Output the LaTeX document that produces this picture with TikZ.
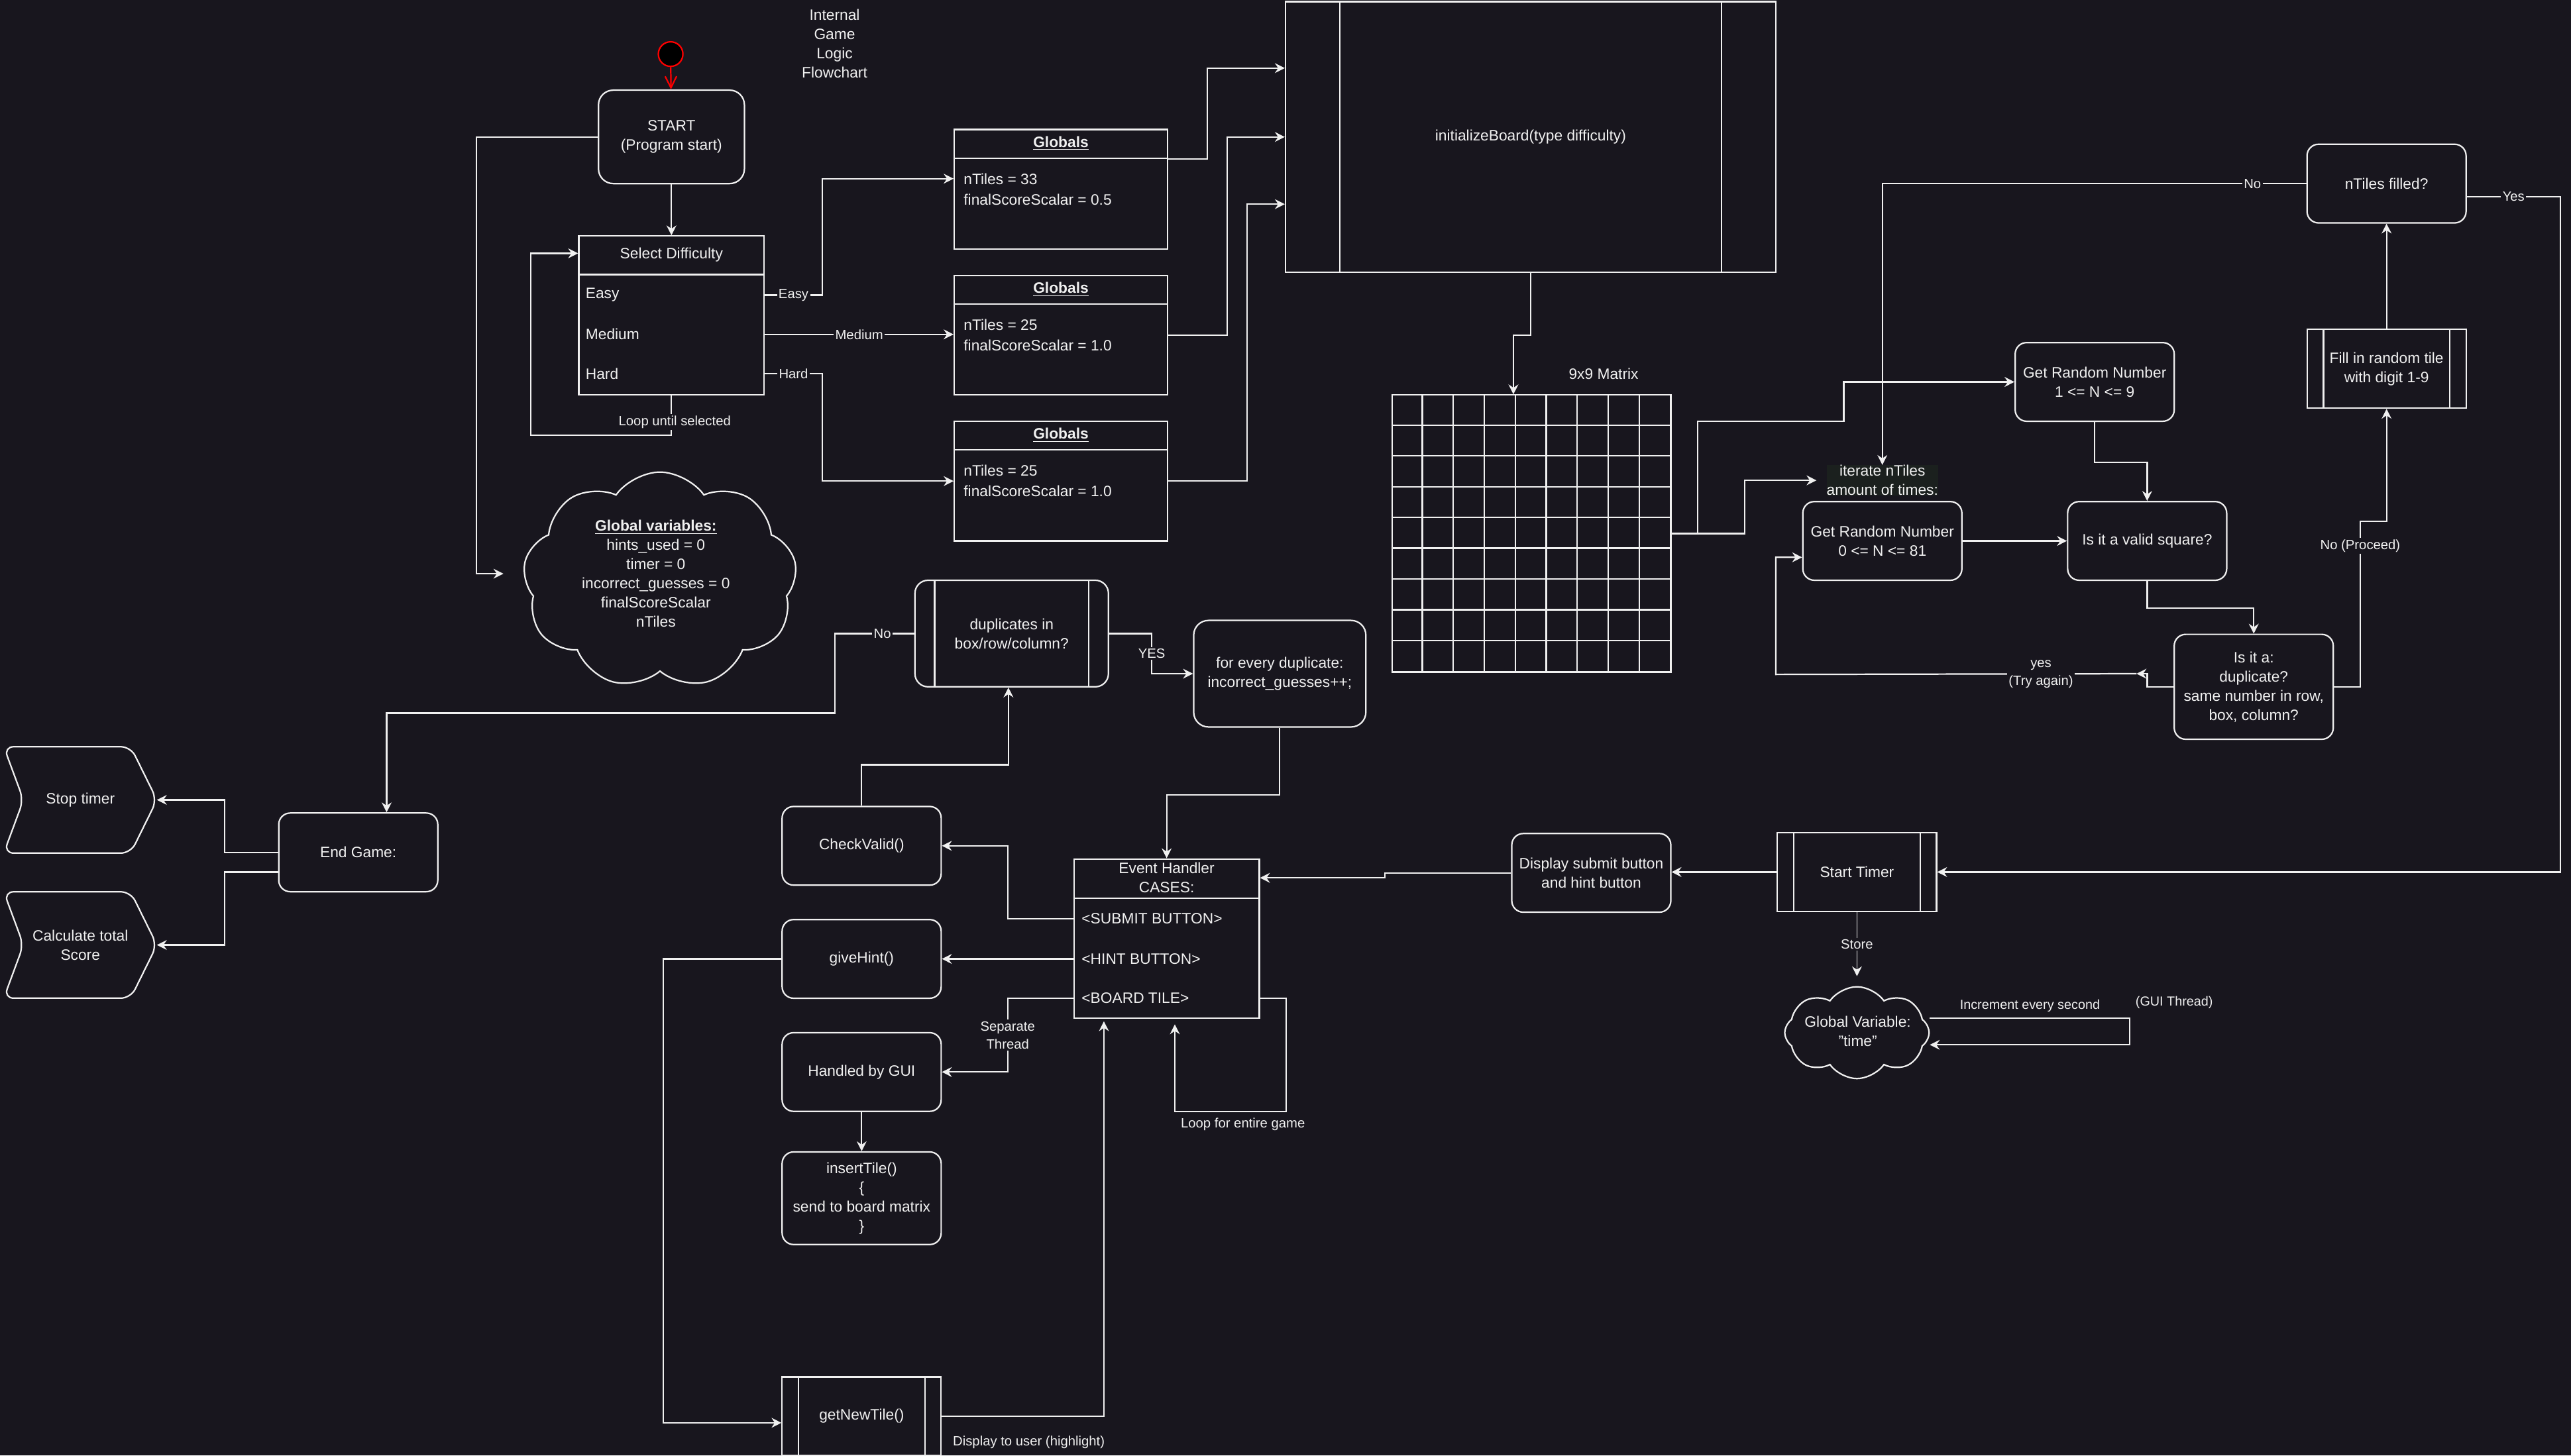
\documentclass[tikz,border=0pt]{standalone}
\usepackage{fontspec}
\setmainfont{Liberation Sans}
\usetikzlibrary{arrows.meta,calc,positioning,shapes.symbols}
\definecolor{bg}{RGB}{24,22,30}
\definecolor{fg}{RGB}{240,240,240}
\definecolor{lblbg}{RGB}{27,32,30}
\tikzset{
        line/.style = {draw=fg, line width=0.9pt},
        arrow/.style = {line, -{Stealth[length=6pt,width=6pt,inset=2pt]}},
        block/.style = {line, rectangle, rounded corners=7pt, fill=bg,
            minimum width=97pt, minimum height=48pt, inner sep=0pt, align=center},
        lane/.style = {line, rectangle, fill=bg, inner sep=0pt},
        proc/.style = {line, rectangle, fill=bg, inner sep=0pt, align=center,
            minimum width=97pt, minimum height=48pt,
            path picture={\draw[fg, line width=0.9pt]
                ([xshift=#1]path picture bounding box.north west) -- ([xshift=#1]path picture bounding box.south west)
                ([xshift=-#1]path picture bounding box.north east) -- ([xshift=-#1]path picture bounding box.south east);}},
        puff/.style = {line, cloud, fill=bg, inner sep=0pt, cloud puffs=9, cloud puff arc=110},
        elabel/.style = {fill=bg, inner sep=1pt, align=center, font=\fontsize{8.2}{11}\selectfont},
        txt/.style = {inner sep=0pt, align=center},
    }

\begin{document}
\begin{tikzpicture}[x=1pt, y=-1pt,
        every node/.style={text=fg, font=\fontsize{9.2}{11.7}\selectfont}]
    \useasboundingbox[fill=bg] (0,0) rectangle (1568,888);

    \node[circle, draw=red, fill=black, line width=0.9pt, minimum size=15pt, inner sep=0pt] (dot) at (409,33) {};
    \node[txt] (title) at (509,26.5) {Internal\\Game\\Logic\\Flowchart};
    \node[block, minimum width=89pt, minimum height=57pt, rounded corners=9pt] (start) at (409.5,83.5) {START\\(Program start)};

    \node[lane, minimum width=113pt, minimum height=97pt] (diff) at (409.5,192.5) {};
    \draw[line] ($(diff.north west)+(0,24)$) -- ($(diff.north east)+(0,24)$);
    \node[txt] at ($(diff.north)+(0,12)$) {Select Difficulty};
    \node[txt, anchor=west] (easy) at (357,180) {Easy};
    \node[txt, anchor=west] (medium) at (357,204) {Medium};
    \node[txt, anchor=west] (hard) at (357,228) {Hard};

    \node[lane, minimum width=130pt, minimum height=73pt] (g1) at (647,115.5) {};
    \draw[line] ($(g1.north west)+(0,18)$) -- ($(g1.north east)+(0,18)$);
    \node[txt] at ($(g1.north)+(0,9)$) {\underline{\textbf{Globals}}};
    \node[txt, anchor=west, align=left, font=\fontsize{9.2}{12.5}\selectfont] at ($(g1.west)+(6,0)$) {nTiles = 33\\finalScoreScalar = 0.5};

    \node[lane, minimum width=130pt, minimum height=73pt] (g2) at (647,204.5) {};
    \draw[line] ($(g2.north west)+(0,18)$) -- ($(g2.north east)+(0,18)$);
    \node[txt] at ($(g2.north)+(0,9)$) {\underline{\textbf{Globals}}};
    \node[txt, anchor=west, align=left, font=\fontsize{9.2}{12.5}\selectfont] at ($(g2.west)+(6,0)$) {nTiles = 25\\finalScoreScalar = 1.0};

    \node[lane, minimum width=130pt, minimum height=73pt] (g3) at (647,293.5) {};
    \draw[line] ($(g3.north west)+(0,18)$) -- ($(g3.north east)+(0,18)$);
    \node[txt] at ($(g3.north)+(0,9)$) {\underline{\textbf{Globals}}};
    \node[txt, anchor=west, align=left, font=\fontsize{9.2}{12.5}\selectfont] at ($(g3.west)+(6,0)$) {nTiles = 25\\finalScoreScalar = 1.0};

    \node[proc=33pt, minimum width=299pt, minimum height=165pt] (init) at (933.5,83.5) {initializeBoard(type difficulty)};

    \node[lane, minimum width=170pt, minimum height=169pt] (board) at (934,325.5) {};
    \foreach \i in {1,...,8} {
        \draw[line] ($(board.north west)+(\i*18.889,0)$) -- ($(board.south west)+(\i*18.889,0)$);
        \draw[line] ($(board.north west)+(0,\i*18.778)$) -- ($(board.north east)+(0,\i*18.778)$);
    }
    \node[txt] (boardlbl) at (978,228) {9x9 Matrix};

    \node[puff, aspect=1.3, minimum width=167pt, minimum height=132pt] (gvars) at (402.5,354) {};
    \node[txt] (gvtext) at (400,350) {\underline{\textbf{Global variables:}}\\hints\_used = 0\\timer = 0\\incorrect\_guesses = 0\\finalScoreScalar\\nTiles};
    \coordinate (gvin) at (307,350);

    \node[block] (grn81) at (1148,330) {Get Random Number\\0 <= N <= 81};
    \node[txt, fill=lblbg] (iter) at ($(grn81.north)+(0,-12.5)$) {iterate nTiles\\amount of times:};
    \node[block] (grn9) at (1277.5,233) {Get Random Number\\1 <= N <= 9};
    \node[block] (valid) at (1309.5,330) {Is it a valid square?};
    \node[block, minimum height=64pt] (dup) at (1374.5,419) {Is it a:\\duplicate?\\same number in row,\\box, column?};
    \node[proc=10pt] (fill) at (1455.5,225) {Fill in random tile\\with digit 1-9};
    \node[block] (filled) at (1455.5,112) {nTiles filled?};
    \coordinate (retry) at (1303,411);

    \node[proc=10pt] (timer) at (1132.5,532) {Start Timer};
    \node[block] (show) at (970.5,532.5) {Display submit button\\and hint button};
    \node[puff, cloud puffs=8, aspect=1.4, minimum width=88pt, minimum height=56pt] (tcloud) at (1132.5,630) {};
    \node[txt] (tctext) at (1133,629) {Global Variable:\\"time"};

    \node[lane, minimum width=113pt, minimum height=97pt] (evh) at (711.5,572.5) {};
    \draw[line] ($(evh.north west)+(0,24.5)$) -- ($(evh.north east)+(0,24.5)$);
    \node[txt] (evhead) at ($(evh.north)+(0,12)$) {Event Handler\\CASES:};
    \node[txt, anchor=west] (submit) at (659.5,560.5) {<SUBMIT BUTTON>};
    \node[txt, anchor=west] (hintbtn) at (659.5,585) {<HINT BUTTON>};
    \node[txt, anchor=west] (tilebtn) at (659.5,609) {<BOARD TILE>};

    \node[block] (check) at (525.5,516) {CheckValid()};
    \node[block] (hint) at ($(check)+(0,69)$) {giveHint()};
    \node[block] (gui) at ($(hint)+(0,69)$) {Handled by GUI};
    \node[block, minimum height=56.5pt] (insert) at (525.5,731) {insertTile()\\\{\\send to board matrix\\\}};
    \node[proc=10pt] (newtile) at (525.5,864) {getNewTile()};

    \node[proc=12pt, rounded corners=8pt, minimum width=118pt, minimum height=65pt] (dupl) at (617,386.5) {duplicates in\\box/row/column?};
    \node[block, minimum width=105pt, minimum height=65pt, rounded corners=9pt] (every) at (780.5,411) {for every duplicate:\\incorrect\_guesses++;};

    \node[block] (endg) at (218.5,520) {End Game:};
    \node[txt, minimum width=93pt, minimum height=64.5pt] (stop) at (49,488) {Stop timer};
    \node[txt, minimum width=93pt, minimum height=64.5pt] (calc) at (49,576.5) {Calculate total\\Score};
    \draw[line, rounded corners=6pt] (stop.north west) -- ($(stop.north east)+(-16,0)$) -- (stop.east)
        -- ($(stop.south east)+(-16,0)$) -- (stop.south west) -- ($(stop.west)+(12,0)$) -- cycle;
    \draw[line, rounded corners=6pt] (calc.north west) -- ($(calc.north east)+(-16,0)$) -- (calc.east)
        -- ($(calc.south east)+(-16,0)$) -- (calc.south west) -- ($(calc.west)+(12,0)$) -- cycle;

    \draw[red, line width=0.9pt, -{Straight Barb[length=7pt,width=7pt]}] (dot) -- (start);
    \draw[arrow] (start) -- (diff);
    \draw[arrow] (start.west) -- ++(-74,0) |- (gvin);
    \draw[arrow] (diff.south) -- ++(0,24) -| ($(diff.north west)+(-29,11)$) -- ($(diff.north west)+(0,11)$);
    \node[elabel] at ($(diff.south)+(2,16)$) {Loop until selected};
    \draw[arrow] (diff.east |- easy) -- node[elabel] {Easy} ++(35,0) |- ($(g1.west)+(0,-6.5)$);
    \draw[arrow] (diff.east |- medium) -- node[elabel] {Medium} (g2.west |- medium);
    \draw[arrow] (diff.east |- hard) -- node[elabel] {Hard} ++(35,0) |- (g3.west);
    \draw[arrow] ($(g1.north east)+(0,18.5)$) -- ++(24,0) |- ($(init.north west)+(0,41)$);
    \draw[arrow] (g2.east) -- ++(36,0) |- ($(init.north west)+(0,83)$);
    \draw[arrow] (g3.east) -- ++(48,0) |- ($(init.north west)+(0,124)$);
    \draw[arrow] (init.south) -- ++(0,38) -| ($(board.north)+(-11,0)$);

    \draw[arrow] (board.east) -- ++(16,0) -- ++(0,-68.5) -- ++(89,0) |- (grn9.west);
    \draw[arrow] (board.east) -- ++(44.5,0) |- ([xshift=-6pt]iter.west);
    \draw[arrow] (grn81) -- (valid);
    \draw[arrow] (grn9.south) -- ++(0,24.5) -| (valid.north);
    \draw[arrow] (valid.south) -- ++(0,16.5) -| (dup.north);
    \draw[arrow] (dup.west) -- ++(-16,0) -- ++(0,-8) -- (retry);
    \draw[arrow] (retry) -- node[elabel, pos=0.265] {yes\\(Try again)} ($(grn81.south west)+(-16,57)$) |- ($(grn81.west)+(0,10)$);
    \draw[arrow] (dup.east) -- ++(16,0) -- node[elabel, pos=0.85] {No (Proceed)} ++(0,-101) -| (fill.south);
    \draw[arrow] (fill) -- (filled);
    \draw[arrow] (filled.west) -- node[elabel, pos=0.127] {No} (filled.west -| iter.north) -- (iter.north);
    \draw[arrow] ($(filled.east)+(0,8)$) -- node[elabel] {Yes} ++(57,0) |- (timer.east);
    \draw[arrow] (timer.west) -- (show.east |- timer.west);
    \draw[arrow] (show.west) -- ++(-77,0) |- (evh.east |- evhead);
    \draw[arrow, line width=0.5pt] (timer.south) -- node[elabel] {Store} ($(tcloud.north)+(0,-6)$);
    \draw[arrow] ($(tcloud.east)+(0,-9)$) -- ++(122,0) -- ++(0,16.4) -- ($(tcloud.east)+(0,7.4)$);
    \node[txt, font=\fontsize{8}{10}\selectfont] (inclbl) at (1238,613.7) {Increment every second};
    \node[txt, font=\fontsize{8}{10}\selectfont] (guilbl) at (1326,611.7) {(GUI Thread)};

    \draw[arrow] (every.south) -- ++(0,41) -| (evh.north);
    \draw[arrow] (evh.west |- submit) -- ++(-40,0) |- (check.east);
    \draw[arrow] (evh.west |- hintbtn) -- (hint.east);
    \draw[arrow] (evh.west |- tilebtn) -- ++(-40,0) -- node[elabel] {Separate\\Thread} ++(0,45) -- (gui.east);
    \draw[arrow] (evh.east |- tilebtn) -- ++(16,0) -- ++(0,69) -| ($(evh.south)+(5,3.5)$);
    \node[txt, anchor=west, font=\fontsize{8.2}{10}\selectfont] (looplbl) at (720,686) {Loop for entire game};
    \draw[arrow] (gui) -- (insert);
    \draw[arrow] (hint.west) -- ++(-72,0) |- ([yshift=-4pt]newtile.west);
    \draw[arrow] (newtile.east) -| ($(evh.south west)+(18.7,1.6)$);
    \node[txt, anchor=west, font=\fontsize{8.2}{10}\selectfont] (showlbl) at (581,880) {Display to user (highlight)};
    \draw[arrow] (check.north) -- ++(0,-25) -| ($(dupl.south)+(-2,0)$);
    \draw[arrow] (dupl.west) -- node[elabel, pos=0.4] {No} ++(-48.5,0) -- ++(0,48.5) -| ($(endg.north)+(17.3,0)$);
    \draw[arrow] (dupl.east) -- ++(26,0) |- node[elabel, pos=0.25] {YES} (every.west);
    \draw[arrow] (endg.west) -- ++(-32.4,0) |- (stop.east);
    \draw[arrow] ($(endg.west)+(0,12)$) -- ++(-32.4,0) |- (calc.east);
\end{tikzpicture}
\end{document}
